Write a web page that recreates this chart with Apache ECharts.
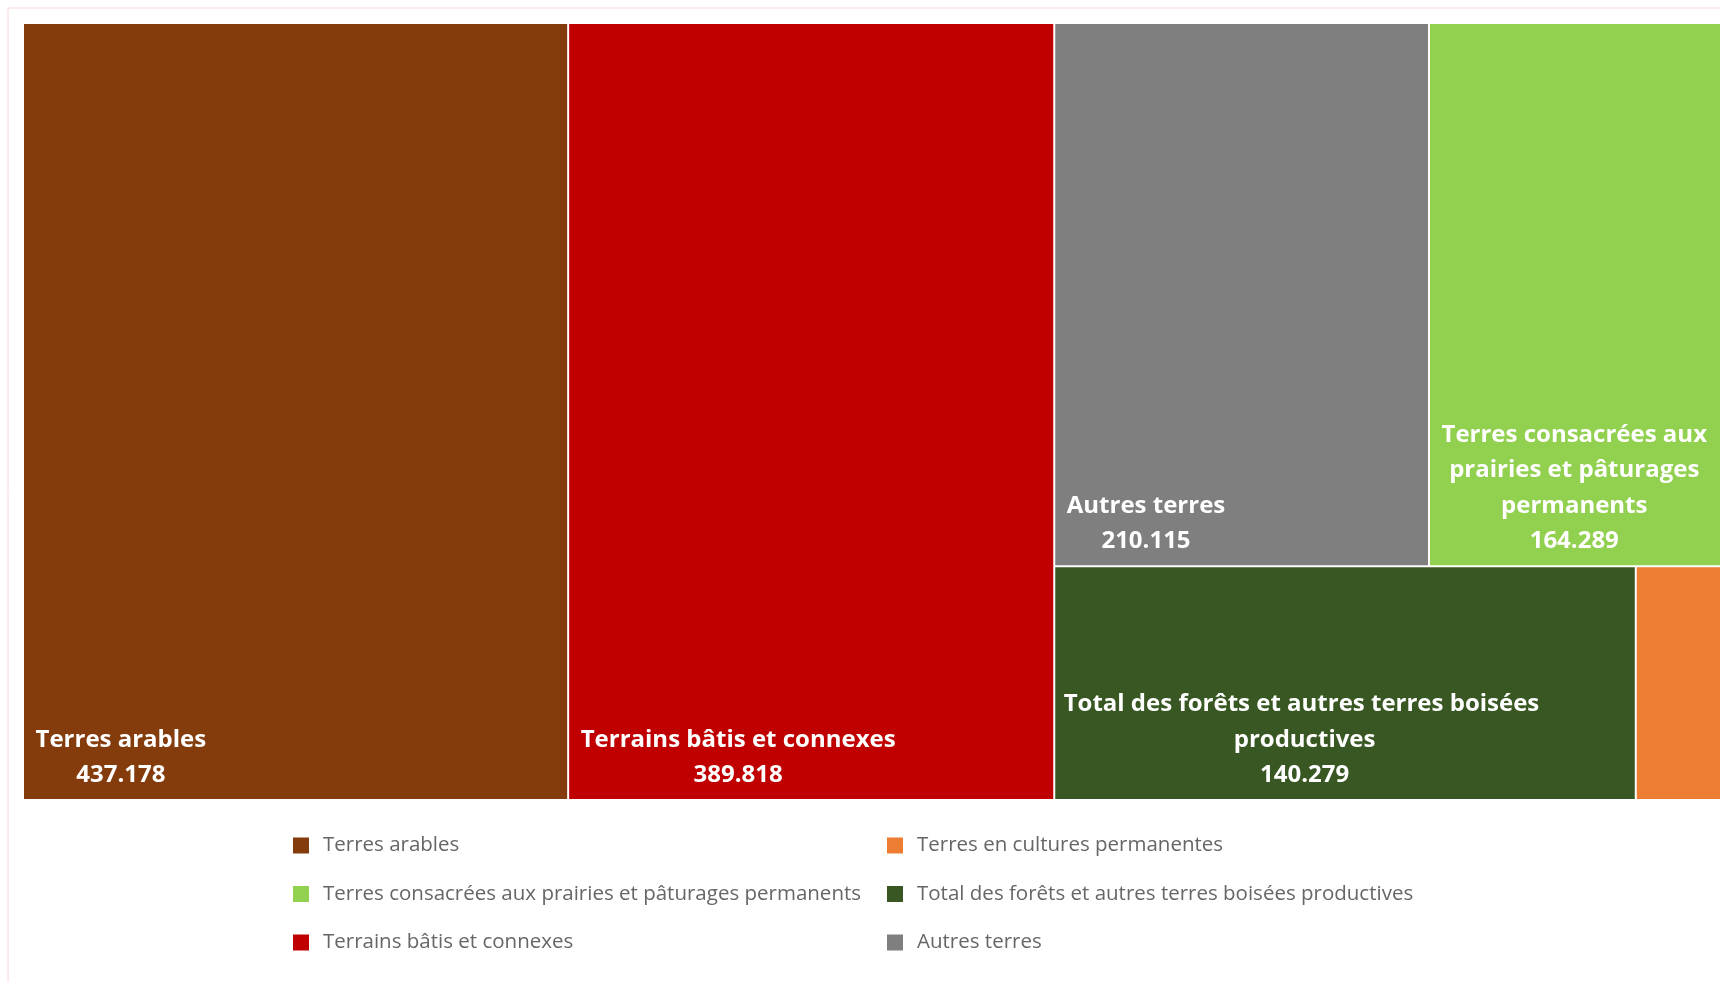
<!DOCTYPE html>
<html>
<head>
<meta charset="utf-8">
<script src="https://cdn.jsdelivr.net/npm/echarts@6/dist/echarts.min.js"></script>
<style>
  html, body { margin: 0; padding: 0; background: #ffffff; }
  #chart { width: 1720px; height: 982px; }
</style>
</head>
<body>
<div id="chart"></div>
<script>
// Utilisation du sol (surfaces)
const categories = [
  'Terres arables',
  'Terrains bâtis et connexes',
  'Autres terres',
  'Terres consacrées aux prairies et pâturages permanents',
  'Total des forêts et autres terres boisées productives',
  'Terres en cultures permanentes'
];
const values = [437.178, 389.818, 210.115, 164.289, 140.279, 20.8];
const colors = ['#843C0C', '#C00000', '#7F7F7F', '#92D050', '#385723', '#ED7D31'];

// Legend columns
const legendColumnLeft = [
  'Terres arables',
  'Terres consacrées aux prairies et pâturages permanents',
  'Terrains bâtis et connexes'
];
const legendColumnRight = [
  'Terres en cultures permanentes',
  'Total des forêts et autres terres boisées productives',
  'Autres terres'
];

const LABEL_FONT_SIZE = 24;
const LABEL_FONT = 'bold ' + LABEL_FONT_SIZE + 'px "Open Sans"';
const LABEL_SIDE = 6;      // padding used for line breaking
const LABEL_INSET = 11.5;  // left inset of the label block

const measureCtx = document.createElement('canvas').getContext('2d');
measureCtx.font = LABEL_FONT;

// Greedy word wrap, same as the label renderer, to find the block width
function blockWidth(text, maxWidth) {
  let widest = 0;
  text.split('\n').forEach(function (raw) {
    let line = '';
    raw.split(' ').forEach(function (word) {
      const next = line ? line + ' ' + word : word;
      if (line && measureCtx.measureText(next).width > maxWidth) {
        widest = Math.max(widest, measureCtx.measureText(line).width);
        line = word;
      } else {
        line = next;
      }
    });
    widest = Math.max(widest, measureCtx.measureText(line).width);
  });
  return widest;
}

const treeData = categories.map(function (name, i) {
  return {
    name: name,
    value: values[i],
    itemStyle: { color: colors[i] },
    // tiles this small carry no label
    label: { show: values[i] >= 50 }
  };
});

const legendSeries = categories.map(function (name, i) {
  return { type: 'scatter', name: name, data: [], itemStyle: { color: colors[i], opacity: 1 } };
});

function legendBlock(names, left) {
  return {
    data: names,
    orient: 'vertical',
    left: left,
    top: 830,
    icon: 'rect',
    itemWidth: 16,
    itemHeight: 16,
    itemGap: 27.5,
    selectedMode: false,
    itemStyle: { opacity: 1 },
    textStyle: {
      fontFamily: 'Open Sans',
      fontSize: 20.5,
      color: '#666666',
      lineHeight: 16,
      padding: [0, 0, 0, 9]
    }
  };
}

const chart = echarts.init(document.getElementById('chart'), null, { renderer: 'canvas' });

chart.setOption({
  animation: false,
  backgroundColor: '#ffffff',
  graphic: [{
    type: 'rect',
    shape: { x: 8, y: 8, width: 1740, height: 1000 },
    style: { fill: null, stroke: '#F6D6D6', lineWidth: 1 },
    silent: true
  }],
  grid: { show: false, left: 0, top: 0, width: 1, height: 1 },
  xAxis: { show: false, type: 'value' },
  yAxis: { show: false, type: 'value' },
  legend: [legendBlock(legendColumnLeft, 288), legendBlock(legendColumnRight, 882)],
  series: [{
    type: 'treemap',
    left: 24,
    top: 24,
    width: 1697,
    height: 775,
    roam: false,
    nodeClick: false,
    breadcrumb: { show: false },
    squareRatio: 1,
    sort: 'desc',
    levels: [{ itemStyle: { gapWidth: 2, borderWidth: 0, borderColor: '#ffffff' } }],
    itemStyle: { borderWidth: 0 },
    label: {
      show: true,
      position: 'insideBottomLeft',
      color: '#ffffff',
      fontFamily: 'Open Sans',
      fontWeight: 'bold',
      fontSize: LABEL_FONT_SIZE,
      lineHeight: 35.5,
      overflow: 'break',
      padding: [0, LABEL_SIDE, 6, LABEL_SIDE],
      formatter: function (p) {
        return p.name + '\n' + Number(p.value).toFixed(3);
      }
    },
    labelLayout: function (p) {
      const r = p.rect;
      const w = blockWidth(p.text || '', r.width - 2 * LABEL_SIDE);
      return {
        x: r.x + Math.min(LABEL_INSET + w / 2, r.width / 2),
        y: r.y + r.height,
        align: 'center',
        verticalAlign: 'bottom'
      };
    },
    data: treeData
  }].concat(legendSeries)
});
</script>
</body>
</html>
